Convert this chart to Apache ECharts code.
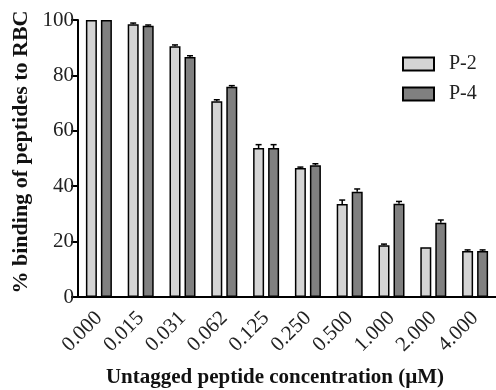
<!DOCTYPE html>
<html>
<head>
<meta charset="utf-8">
<script src="https://cdn.jsdelivr.net/npm/echarts@6/dist/echarts.min.js"></script>
<style>
  html, body { margin: 0; padding: 0; background: #fff; }
  #chart { width: 496px; height: 390px; }
</style>
</head>
<body>
<div id="chart"></div>
<script>
// Untagged peptide concentrations (µM)
const categories = ['0.000', '0.015', '0.031', '0.062', '0.125', '0.250', '0.500', '1.000', '2.000', '4.000'];
// Mean % binding to RBC
const p2Values = [100, 98.5, 90.5, 70.7, 53.8, 46.6, 33.6, 18.7, 18.0, 16.6];
const p4Values = [100, 97.9, 86.6, 75.9, 53.8, 47.6, 38.0, 33.7, 26.8, 16.6];
// Upper error (SEM)
const p2Errors = [0, 0.4, 0.5, 0.5, 1.2, 0.3, 1.4, 0.4, 0, 0.4];
const p4Errors = [0, 0.3, 0.5, 0.4, 1.2, 0.5, 1.0, 0.8, 1.0, 0.4];
const yTicks = [0, 20, 40, 60, 80, 100];

const FONT = '"Liberation Serif", "Times New Roman", serif';
const BAR_W = 11;
const BAR_GAP = 4;

function errorSeries(values, errors, side) {
  return {
    type: 'custom',
    silent: true,
    z: 5,
    data: values.map((v, i) => [i, v, errors[i]]),
    renderItem: function (params, api) {
      const idx = api.value(0), v = api.value(1), e = api.value(2);
      if (!e) return null;
      const base = api.coord([idx, v]);
      const top = api.coord([idx, v + e]);
      const x = base[0] + side * (BAR_W / 2 + BAR_GAP / 2);
      const cap = 3;
      const style = { stroke: '#000', lineWidth: 1.5 };
      return {
        type: 'group',
        children: [
          { type: 'line', shape: { x1: x, y1: base[1], x2: x, y2: top[1] }, style: style },
          { type: 'line', shape: { x1: x - cap, y1: top[1], x2: x + cap, y2: top[1] }, style: style }
        ]
      };
    }
  };
}

const chart = echarts.init(document.getElementById('chart'), null, { renderer: 'canvas' });
chart.setOption({
  animation: false,
  backgroundColor: '#fff',
  grid: { left: 78, right: 0, top: 20, bottom: 93, containLabel: false },
  legend: {
    orient: 'vertical',
    left: 397,
    top: 49,
    icon: 'rect',
    itemWidth: 31,
    itemHeight: 13,
    itemGap: 10,
    data: ['P-2', 'P-4'],
    textStyle: { fontFamily: FONT, fontSize: 20, color: '#222', padding: [0, 0, 0, 10] }
  },
  xAxis: {
    type: 'category',
    data: categories,
    axisLine: { lineStyle: { color: '#000', width: 2 } },
    axisTick: { alignWithLabel: true, length: 8, lineStyle: { color: '#000', width: 2 } },
    axisLabel: { rotate: 45, margin: 18, fontFamily: FONT, fontSize: 21, color: '#222', interval: 0 }
  },
  yAxis: {
    type: 'value',
    min: yTicks[0],
    max: yTicks[yTicks.length - 1],
    interval: 20,
    splitLine: { show: false },
    axisLine: { show: true, lineStyle: { color: '#000', width: 2 } },
    axisTick: { show: true, length: 7, lineStyle: { color: '#000', width: 2 } },
    axisLabel: { margin: 4, fontFamily: FONT, fontSize: 21, color: '#222' }
  },
  graphic: [
    {
      type: 'text',
      x: 21, y: 152, rotation: Math.PI / 2,
      style: {
        text: '% binding of peptides to RBC',
        fontFamily: FONT, fontSize: 22, fontWeight: 'bold', fill: '#111',
        align: 'center', verticalAlign: 'middle'
      }
    },
    {
      type: 'text',
      style: {
        text: 'Untagged peptide concentration (µM)',
        x: 275, y: 378,
        fontFamily: FONT, fontSize: 21, fontWeight: 'bold', fill: '#111',
        align: 'center', verticalAlign: 'middle'
      }
    }
  ],
  series: [
    {
      name: 'P-2', type: 'bar', data: p2Values, barWidth: BAR_W, barGap: (BAR_GAP / BAR_W * 100) + '%',
      itemStyle: { color: '#d4d4d4', borderColor: '#000', borderWidth: 1.5 }
    },
    {
      name: 'P-4', type: 'bar', data: p4Values, barWidth: BAR_W,
      itemStyle: { color: '#808080', borderColor: '#000', borderWidth: 1.5 }
    },
    errorSeries(p2Values, p2Errors, -1),
    errorSeries(p4Values, p4Errors, 1)
  ]
});
</script>
</body>
</html>
